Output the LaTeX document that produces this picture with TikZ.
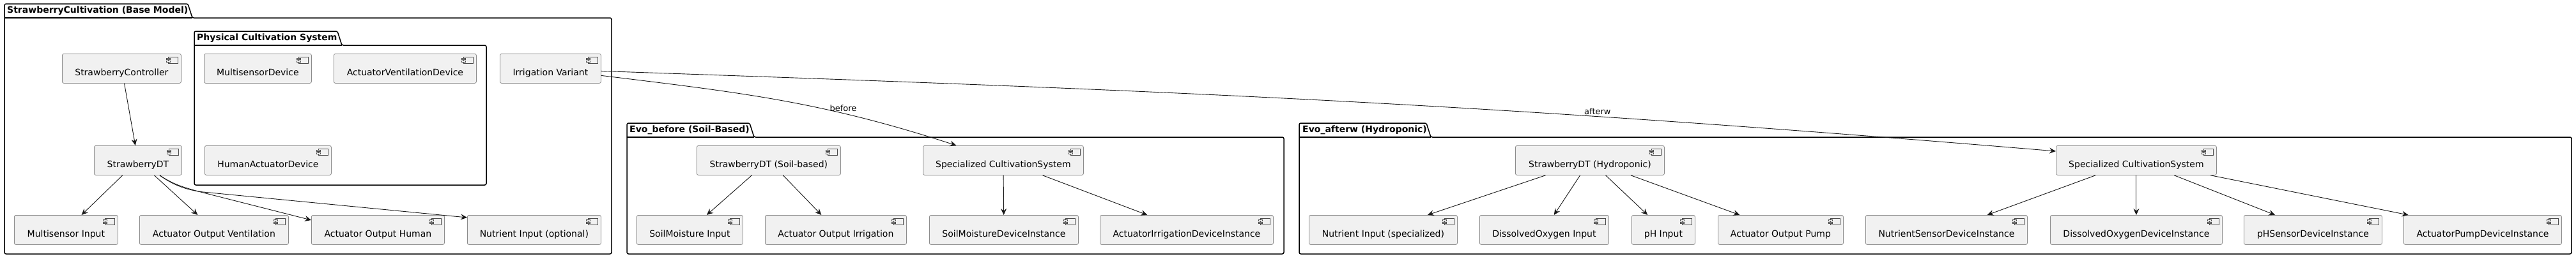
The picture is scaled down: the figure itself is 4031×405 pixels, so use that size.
\documentclass[tikz,border=0pt]{standalone}
\usepackage{fontspec}
\setmainfont{DejaVu Sans}
\usepackage{tikz}
\usetikzlibrary{arrows.meta}
\definecolor{compfill}{HTML}{F1F1F1}
\definecolor{lineclr}{HTML}{181818}

\begin{document}
\begin{tikzpicture}[x=1pt, y=-1pt,
  comp/.style={rectangle, rounded corners=2.5pt, draw=black!45, line width=0.8pt, fill=compfill,
    anchor=north west, minimum height=46pt, inner xsep=0pt, text height=25pt, text depth=3pt,
    font=\fontsize{14pt}{16pt}\selectfont,
    path picture={
      \draw[sharp corners, line width=0.6pt, draw=black!70, fill=compfill]
        ([xshift=-20pt,yshift=-5pt]path picture bounding box.north east) rectangle ++(15pt,-10pt);
      \draw[sharp corners, line width=0.6pt, draw=black!70, fill=compfill]
        ([xshift=-23pt,yshift=-7pt]path picture bounding box.north east) rectangle ++(6pt,-2pt);
      \draw[sharp corners, line width=0.6pt, draw=black!70, fill=compfill]
        ([xshift=-23pt,yshift=-11pt]path picture bounding box.north east) rectangle ++(6pt,-2pt);
    }},
  pkg/.style={draw=black, line width=1.5pt, rounded corners=2.5pt},
  ttl/.style={anchor=west, inner sep=0pt, font=\bfseries\fontsize{14pt}{16pt}\selectfont},
  arr/.style={-{Stealth[length=10pt, width=9pt, inset=3.5pt]}, draw=lineclr, line width=0.9pt},
  lbl/.style={above, inner sep=2.5pt, font=\fontsize{13pt}{15pt}\selectfont}]
\fill[white] (0,0) rectangle (4031,405);
\useasboundingbox (0,0) rectangle (4031,405);

% packages
\draw[pkg] (7,6) -- (294,6) -- (301,28) -- (957,28) -- (957,398) -- (7,398) -- cycle;
\draw[pkg] (7,28) -- (301,28);
\node[ttl] (basettl) at (11,17) {StrawberryCultivation (Base Model)};

\draw[pkg] (304,49) -- (528,49) -- (535,71) -- (761,71) -- (761,290) -- (304,290) -- cycle;
\draw[pkg] (304,71) -- (535,71);
\node[ttl] (physttl) at (308,60) {Physical Cultivation System};

\draw[pkg] (981,193) -- (1173,193) -- (1180,215) -- (2009,215) -- (2009,398) -- (981,398) -- cycle;
\draw[pkg] (981,215) -- (1180,215);
\node[ttl] (soilttl) at (985,204) {Evo\_before (Soil-Based)};

\draw[pkg] (2033,193) -- (2232,193) -- (2239,215) -- (4024,215) -- (4024,398) -- (2033,398) -- cycle;
\draw[pkg] (2033,215) -- (2239,215);
\node[ttl] (hydrottl) at (2038,204) {Evo\_afterw (Hydroponic)};

% base model
\node[comp, minimum width=186pt] (ctrl) at (97,84) {StrawberryController};
\node[comp, minimum width=168pt] (msdev) at (319,84) {MultisensorDevice};
\node[comp, minimum width=223pt] (avdev) at (522,84) {ActuatorVentilationDevice};
\node[comp, minimum width=158pt] (irr) at (782,84) {Irrigation Variant};
\node[comp, minimum width=137pt] (dt) at (147,228) {StrawberryDT};
\node[comp, minimum width=198pt] (hadev) at (320,228) {HumanActuatorDevice};
\node[comp, minimum width=162pt] (msin) at (22,337) {Multisensor Input};
\node[comp, minimum width=233pt] (aov) at (218,337) {Actuator Output Ventilation};
\node[comp, minimum width=208pt] (aoh) at (487,337) {Actuator Output Human};
\node[comp, minimum width=209pt] (nin) at (731,337) {Nutrient Input (optional)};

% soil-based
\node[comp, minimum width=225pt] (dtsoil) at (1090,228) {StrawberryDT (Soil-based)};
\node[comp, minimum width=251pt] (specsoil) at (1444,228) {Specialized CultivationSystem};
\node[comp, minimum width=166pt] (smin) at (996,337) {SoilMoisture Input};
\node[comp, minimum width=221pt] (aoi) at (1197,337) {Actuator Output Irrigation};
\node[comp, minimum width=233pt] (smdev) at (1454,337) {SoilMoistureDeviceInstance};
\node[comp, minimum width=271pt] (aidev) at (1721,337) {ActuatorIrrigationDeviceInstance};

% hydroponic
\node[comp, minimum width=233pt] (dthyd) at (2371,228) {StrawberryDT (Hydroponic)};
\node[comp, minimum width=251pt] (spechyd) at (3217,228) {Specialized CultivationSystem};
\node[comp, minimum width=232pt] (nisp) at (2048,337) {Nutrient Input (specialized)};
\node[comp, minimum width=202pt] (doin) at (2315,337) {DissolvedOxygen Input};
\node[comp, minimum width=99pt] (phin) at (2553,337) {pH Input};
\node[comp, minimum width=196pt] (aop) at (2688,337) {Actuator Output Pump};
\node[comp, minimum width=253pt] (nsdev) at (2919,337) {NutrientSensorDeviceInstance};
\node[comp, minimum width=269pt] (dodev) at (3208,337) {DissolvedOxygenDeviceInstance};
\node[comp, minimum width=216pt] (phdev) at (3511,337) {pHSensorDeviceInstance};
\node[comp, minimum width=247pt] (apdev) at (3761,337) {ActuatorPumpDeviceInstance};

% connectors
\coordinate (bendh) at (310,300);
\coordinate (bendn) at (318,301);
\draw[arr] (ctrl) -- (dt);
\draw[arr] (dt) -- (msin);
\draw[arr] (dt) -- (aov);
\draw[arr] ([xshift=34pt]dt.south) .. controls +(24,16) and +(-20,-6) .. (bendh) -- ([yshift=-8pt]aoh.north west);
\draw[arr] ([xshift=34pt]dt.south) .. controls +(22,16) and +(-25,-3) .. (bendn) -- ([yshift=-4pt]nin.north west);

\draw[arr] (dtsoil) -- (smin);
\draw[arr] (dtsoil) -- (aoi);
\draw[arr] (specsoil) -- (smdev);
\draw[arr] (specsoil) -- (aidev);

\draw[arr] (dthyd) -- (nisp);
\draw[arr] (dthyd) -- (doin);
\draw[arr] (dthyd) -- (phin);
\draw[arr] (dthyd) -- (aop);
\draw[arr] (spechyd) -- (nsdev);
\draw[arr] (spechyd) -- (dodev);
\draw[arr] (spechyd) -- (phdev);
\draw[arr] (spechyd) -- (apdev);

\draw[arr] ([yshift=-11pt]irr.east) .. controls +(221,27) and +(-212,-69) .. ([xshift=-73.5pt]specsoil.north) node[lbl, pos=0.69] (lblbefore) {before};
\draw[arr] ([yshift=-4pt]irr.east) .. controls +(900,31) and +(-897,-75) .. ([yshift=-9pt]spechyd.north west) node[lbl, pos=0.7] (lblafterw) {afterw};
\end{tikzpicture}
\end{document}
